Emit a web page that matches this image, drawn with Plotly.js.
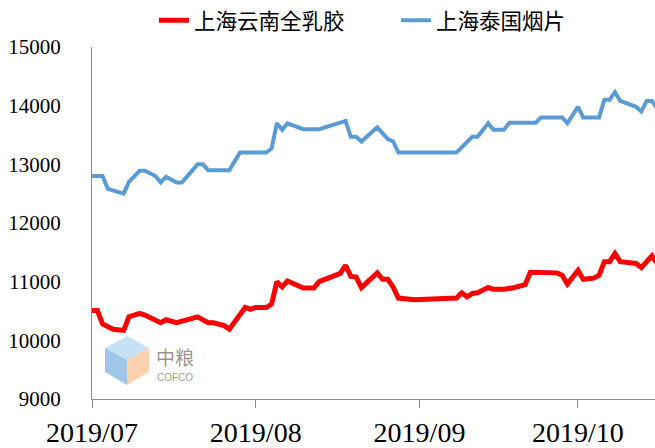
<!DOCTYPE html>
<html>
<head>
<meta charset="utf-8">
<script src="https://cdn.plot.ly/plotly-3.0.1.min.js"></script>
<style>
  html, body { margin: 0; padding: 0; background: #ffffff; }
  #chart { width: 655px; height: 448px; }
</style>
</head>
<body>
<div id="chart"></div>
<script>
// Series names
const seriesNames = ['上海云南全乳胶', '上海泰国烟片'];

// 上海云南全乳胶 (red)
const rubberDates = [
  '2019-07-01','2019-07-02','2019-07-03','2019-07-05','2019-07-07','2019-07-08','2019-07-10','2019-07-11',
  '2019-07-14','2019-07-15','2019-07-17','2019-07-19','2019-07-21','2019-07-23','2019-07-24','2019-07-26',
  '2019-07-27','2019-07-30','2019-07-31','2019-08-01','2019-08-03','2019-08-04','2019-08-05','2019-08-06',
  '2019-08-07','2019-08-10','2019-08-12','2019-08-13','2019-08-17','2019-08-18','2019-08-19','2019-08-20',
  '2019-08-21','2019-08-24','2019-08-25','2019-08-26','2019-08-27','2019-08-28','2019-08-31','2019-09-08',
  '2019-09-09','2019-09-10','2019-09-11','2019-09-12','2019-09-14','2019-09-15','2019-09-17','2019-09-19',
  '2019-09-21','2019-09-22','2019-09-27','2019-09-28','2019-09-29','2019-10-01','2019-10-02','2019-10-04',
  '2019-10-05','2019-10-06','2019-10-07','2019-10-08','2019-10-09','2019-10-12','2019-10-13','2019-10-15',
  '2019-10-16'
];
const rubberValues = [
  10510,10510,10280,10190,10170,10400,10460,10430,
  10300,10350,10300,10350,10400,10300,10300,10250,
  10190,10560,10530,10560,10560,10620,11000,10910,
  11010,10890,10890,11000,11140,11280,11090,11080,
  10900,11150,11040,11040,10910,10720,10690,10720,
  10810,10740,10800,10810,10900,10870,10870,10900,
  10950,11160,11150,11110,10960,11190,11040,11060,
  11110,11340,11340,11480,11340,11310,11240,11440,
  11310
];

// 上海泰国烟片 (blue)
const rssDates = [
  '2019-07-01','2019-07-03','2019-07-04','2019-07-07','2019-07-08','2019-07-10','2019-07-11','2019-07-13',
  '2019-07-14','2019-07-15','2019-07-17','2019-07-18','2019-07-21','2019-07-22','2019-07-23','2019-07-27',
  '2019-07-29','2019-08-03','2019-08-04','2019-08-05','2019-08-06','2019-08-07','2019-08-10','2019-08-13',
  '2019-08-18','2019-08-19','2019-08-20','2019-08-21','2019-08-24','2019-08-26','2019-08-27','2019-08-28',
  '2019-09-08','2019-09-11','2019-09-12','2019-09-14','2019-09-15','2019-09-17','2019-09-18','2019-09-23',
  '2019-09-24','2019-09-28','2019-09-29','2019-10-01','2019-10-02','2019-10-05','2019-10-06','2019-10-07',
  '2019-10-08','2019-10-09','2019-10-12','2019-10-13','2019-10-14','2019-10-15','2019-10-16'
];
const rssValues = [
  12800,12800,12580,12500,12700,12890,12890,12800,
  12690,12790,12690,12690,13000,13000,12900,12900,
  13200,13200,13270,13700,13590,13700,13600,13600,
  13740,13470,13470,13390,13630,13430,13390,13200,
  13200,13470,13470,13700,13590,13590,13710,13710,
  13800,13800,13700,13980,13800,13800,14100,14100,
  14230,14080,13980,13900,14080,14080,13950
];

// Axis settings
const yTicks = [9000, 10000, 11000, 12000, 13000, 14000, 15000];
const xRange = ['2019-07-01', '2019-10-15 14:00'];
const yRange = [9000, 15000];

const traces = [
  {
    x: rubberDates, y: rubberValues, name: seriesNames[0],
    type: 'scatter', mode: 'lines',
    line: { color: '#FF0000', width: 5 }
  },
  {
    x: rssDates, y: rssValues, name: seriesNames[1],
    type: 'scatter', mode: 'lines',
    line: { color: '#5B9BD5', width: 4 }
  }
];

// decorative watermark cube (paper coordinates of the plot area)
const W = 655, H = 448, ML = 92, MR = 0, MT = 47, MB = 49;
function px(x) { return ((x - ML) / (W - ML - MR)).toFixed(4); }
function py(y) { return ((H - MB - y) / (H - MT - MB)).toFixed(4); }
function poly(pts) { return 'M' + pts.map(p => px(p[0]) + ',' + py(p[1])).join(' L') + ' Z'; }
const cTop = [127, 336], cUR = [149, 348], cLR = [149, 372], cBot = [127, 385], cLL = [105, 372], cUL = [105, 348], cC = [127, 360];

const layout = {
  width: W, height: H,
  margin: { l: ML, r: MR, t: MT, b: MB },
  paper_bgcolor: '#ffffff',
  plot_bgcolor: '#ffffff',
  showlegend: true,
  legend: {
    orientation: 'h',
    x: 0.11, xanchor: 'left',
    y: 0.955, yanchor: 'middle',
    yref: 'container',
    font: { family: 'Noto Sans CJK SC, sans-serif', size: 21.5, color: '#000000' },
    itemwidth: 30,
    entrywidth: 197,
    entrywidthmode: 'pixels',
    bgcolor: 'rgba(0,0,0,0)'
  },
  xaxis: {
    type: 'date',
    range: xRange,
    tick0: '2019-07-01',
    dtick: 'M1',
    tickformat: '%Y/%m',
    ticks: 'outside',
    ticklen: 8,
    tickcolor: '#8c8c8c',
    showline: true,
    linecolor: '#8c8c8c',
    linewidth: 1,
    showgrid: false,
    zeroline: false,
    tickfont: { family: 'Liberation Serif, Times New Roman, serif', size: 28, color: '#000000' }
  },
  yaxis: {
    range: yRange,
    tickvals: yTicks,
    tickformat: 'd',
    ticks: 'outside',
    ticklen: 26,
    tickcolor: 'rgba(0,0,0,0)',
    showline: true,
    linecolor: '#8c8c8c',
    linewidth: 1,
    showgrid: false,
    zeroline: false,
    tickfont: { family: 'Liberation Serif, Times New Roman, serif', size: 21, color: '#000000' }
  },
  shapes: [
    { type: 'path', xref: 'paper', yref: 'paper', layer: 'below', path: poly([cTop, cUR, cC, cUL]),
      fillcolor: 'rgba(150,200,235,0.55)', line: { width: 0 } },
    { type: 'path', xref: 'paper', yref: 'paper', layer: 'below', path: poly([cUL, cC, cBot, cLL]),
      fillcolor: 'rgba(80,150,215,0.55)', line: { width: 0 } },
    { type: 'path', xref: 'paper', yref: 'paper', layer: 'below', path: poly([cC, cUR, cLR, cBot]),
      fillcolor: 'rgba(245,170,110,0.55)', line: { width: 0 } }
  ],
  annotations: [
    { xref: 'paper', yref: 'paper', x: 0.11, y: 0.12, xanchor: 'left', yanchor: 'middle',
      text: '中粮', showarrow: false,
      font: { family: 'Noto Sans CJK SC, sans-serif', size: 19, color: 'rgba(120,95,90,0.7)' } },
    { xref: 'paper', yref: 'paper', x: 0.112, y: 0.06, xanchor: 'left', yanchor: 'middle',
      text: 'COFCO', showarrow: false,
      font: { family: 'Liberation Sans, sans-serif', size: 10, color: 'rgba(120,95,90,0.7)' } }
  ]
};

Plotly.newPlot('chart', traces, layout, { displayModeBar: false, staticPlot: true });
</script>
</body>
</html>
